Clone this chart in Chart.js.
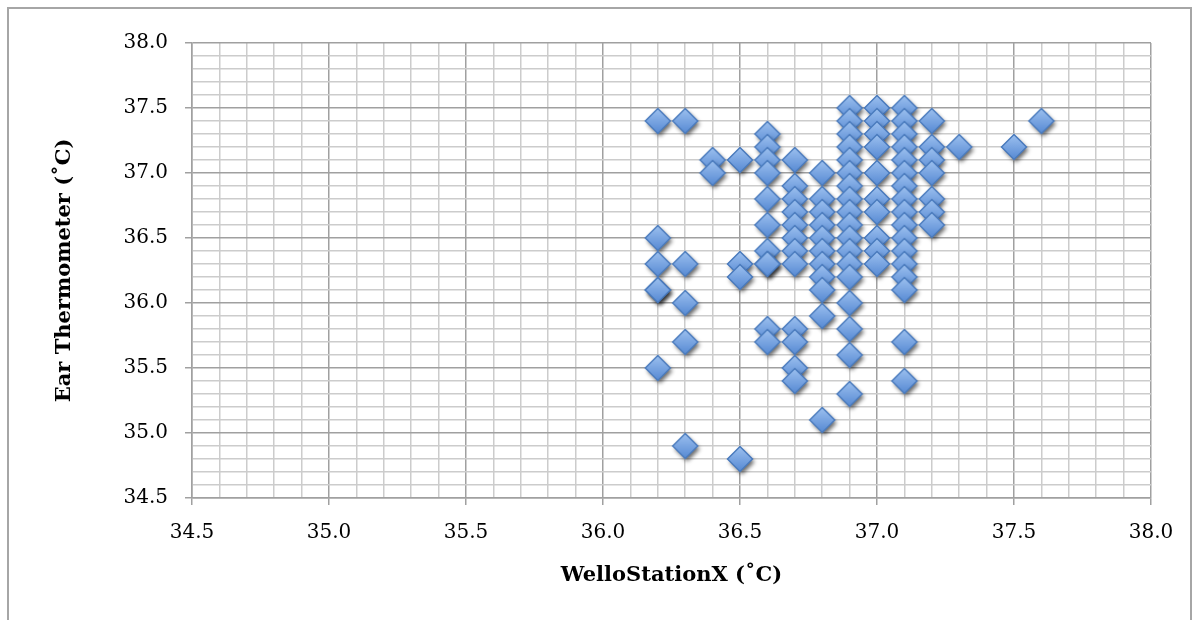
<!DOCTYPE html>
<html>
<head>
<meta charset="utf-8">
<script src="https://cdn.jsdelivr.net/npm/chart.js@4/dist/chart.umd.min.js"></script>
<style>
  html, body { margin: 0; padding: 0; background: #fff; }
  #wrap { width: 1200px; height: 620px; }
</style>
</head>
<body>
<div id="wrap"><canvas id="chart" width="1200" height="620"></canvas></div>
<script>
// WelloStationX reading vs ear thermometer reading (deg C), one entry per subject
const stationX = [
  36.2, 36.2, 36.2, 36.2, 36.2, 36.2,
  36.3, 36.3, 36.3, 36.3, 36.3,
  36.4, 36.4,
  36.5, 36.5, 36.5, 36.5,
  36.6, 36.6, 36.6, 36.6, 36.6, 36.6, 36.6, 36.6, 36.6, 36.6, 36.6,
  36.7, 36.7, 36.7, 36.7, 36.7, 36.7, 36.7, 36.7, 36.7, 36.7, 36.7, 36.7,
  36.8, 36.8, 36.8, 36.8, 36.8, 36.8, 36.8, 36.8, 36.8, 36.8, 36.8,
  36.9, 36.9, 36.9, 36.9, 36.9, 36.9, 36.9, 36.9, 36.9, 36.9, 36.9, 36.9, 36.9, 36.9, 36.9, 36.9, 36.9, 36.9,
  37.0, 37.0, 37.0, 37.0, 37.0, 37.0, 37.0, 37.0, 37.0, 37.0,
  37.1, 37.1, 37.1, 37.1, 37.1, 37.1, 37.1, 37.1, 37.1, 37.1, 37.1, 37.1, 37.1, 37.1, 37.1, 37.1, 37.1,
  37.2, 37.2, 37.2, 37.2, 37.2, 37.2, 37.2,
  37.3, 37.5, 37.6
];
const earTemp = [
  37.4, 36.5, 36.3, 36.1, 36.1, 35.5,
  37.4, 36.3, 36.0, 35.7, 34.9,
  37.1, 37.0,
  37.1, 36.3, 36.2, 34.8,
  37.3, 37.2, 37.1, 37.0, 36.8, 36.6, 36.4, 36.3, 36.3, 35.8, 35.7,
  37.1, 36.9, 36.8, 36.7, 36.6, 36.5, 36.4, 36.3, 35.8, 35.7, 35.5, 35.4,
  37.0, 36.8, 36.7, 36.6, 36.5, 36.4, 36.3, 36.2, 36.1, 35.9, 35.1,
  37.5, 37.4, 37.3, 37.2, 37.1, 37.0, 36.9, 36.8, 36.7, 36.6, 36.5, 36.4, 36.3, 36.2, 36.0, 35.8, 35.6, 35.3,
  37.5, 37.4, 37.3, 37.2, 37.0, 36.8, 36.7, 36.5, 36.4, 36.3,
  37.5, 37.4, 37.3, 37.2, 37.1, 37.0, 36.9, 36.8, 36.7, 36.6, 36.5, 36.4, 36.3, 36.2, 36.1, 35.7, 35.4,
  37.4, 37.2, 37.1, 37.0, 36.8, 36.7, 36.6,
  37.2, 37.2, 37.4
];

const axisMin = 34.5, axisMax = 38.0, minorStep = 0.1;
const xTitle = 'WelloStationX (˚C)';
const yTitle = 'Ear Thermometer (˚C)';

const points = stationX.map((x, i) => ({ x, y: earTemp[i] }));

const isMajor = v => Math.abs(v * 2 - Math.round(v * 2)) < 1e-6;

// excel-ish diamond marker: gradient fill, darker edge, soft drop shadow
function makeMarker() {
  const c = document.createElement('canvas');
  c.width = 40; c.height = 40;
  const g = c.getContext('2d');
  const cx = 20, cy = 20, r = 12.5;
  g.beginPath();
  g.moveTo(cx, cy - r);
  g.lineTo(cx + r, cy);
  g.lineTo(cx, cy + r);
  g.lineTo(cx - r, cy);
  g.closePath();
  const grad = g.createLinearGradient(0, cy - r, 0, cy + r);
  grad.addColorStop(0, '#9cc0ef');
  grad.addColorStop(1, '#5689d3');
  g.save();
  g.shadowColor = 'rgba(0,0,0,0.6)';
  g.shadowBlur = 4;
  g.shadowOffsetX = 2;
  g.shadowOffsetY = 3;
  g.fillStyle = grad;
  g.fill();
  g.restore();
  g.lineWidth = 1.5;
  g.strokeStyle = '#4a7bbd';
  g.stroke();
  return c;
}

const frame = {
  id: 'frame',
  beforeDraw(chart) {
    const ctx = chart.ctx;
    ctx.save();
    ctx.fillStyle = '#fff';
    ctx.fillRect(0, 0, chart.width, chart.height);
    ctx.strokeStyle = '#a6a6a6';
    ctx.lineWidth = 2;
    ctx.beginPath();
    ctx.moveTo(8, 620);
    ctx.lineTo(8, 8);
    ctx.lineTo(1191, 8);
    ctx.lineTo(1191, 620);
    ctx.stroke();
    ctx.restore();
  }
};

const tickFont = { family: 'DejaVu Serif', size: 20 };
const titleFont = { family: 'DejaVu Serif', size: 21, weight: 'bold' };

function gridOpts() {
  return {
    color: c => isMajor(c.tick.value) ? '#a0a0a0' : '#cccccc',
    lineWidth: 1.5,
    tickLength: 7,
    tickColor: c => isMajor(c.tick.value) ? '#a0a0a0' : 'rgba(0,0,0,0)'
  };
}

new Chart(document.getElementById('chart'), {
  type: 'scatter',
  data: {
    datasets: [{
      data: points,
      pointStyle: makeMarker(),
      pointRadius: 12.5,
      pointHoverRadius: 12.5
    }]
  },
  options: {
    responsive: false,
    animation: false,
    layout: { padding: { top: 43, right: 49, left: 0, bottom: 0 } },
    plugins: { legend: { display: false }, tooltip: { enabled: false } },
    scales: {
      x: {
        type: 'linear',
        min: axisMin,
        max: axisMax,
        afterFit: s => { s.height = 122; },
        ticks: {
          stepSize: minorStep,
          autoSkip: false,
          maxRotation: 0,
          padding: 16,
          color: '#000',
          font: tickFont,
          callback: v => isMajor(v) ? v.toFixed(1) : ''
        },
        grid: gridOpts(),
        border: { color: '#a0a0a0', width: 1.5 },
        title: { display: true, text: xTitle, color: '#000', font: titleFont, padding: { top: 0, bottom: 32 } }
      },
      y: {
        type: 'linear',
        min: axisMin,
        max: axisMax,
        afterFit: s => { s.width = 192; },
        ticks: {
          stepSize: minorStep,
          autoSkip: false,
          padding: 17,
          color: '#000',
          font: tickFont,
          callback: v => isMajor(v) ? v.toFixed(1) : ''
        },
        grid: gridOpts(),
        border: { color: '#a0a0a0', width: 1.5 },
        title: { display: true, text: yTitle, color: '#000', font: titleFont, padding: { top: 52, bottom: 0 } }
      }
    }
  },
  plugins: [frame]
});
</script>
</body>
</html>
